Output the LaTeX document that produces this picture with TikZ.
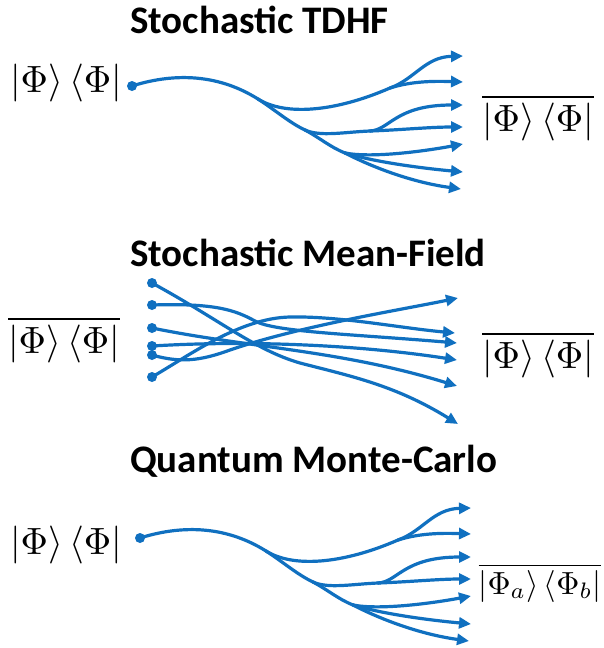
\documentclass[tikz,border=0pt]{standalone}
\usepackage{graphicx}
\usepackage{fontspec}
\newfontfamily\titlefont{Carlito}
\usetikzlibrary{arrows.meta}
\definecolor{flowblue}{RGB}{16,112,192}
\tikzset{
  trunk/.style={draw=flowblue, line width=3.2pt, line cap=round},
  flow/.style={trunk, -{Triangle[length=12pt,width=11pt]}},
  dotnode/.style={circle, fill=flowblue, inner sep=0pt, minimum size=10pt},
  title/.style={anchor=base west, inner sep=0pt, font=\titlefont\bfseries\fontsize{39}{44}\selectfont},
  ket/.style={anchor=base, inner sep=0pt, font=\fontsize{10}{12}\selectfont},
}
\newcommand{\kscale}[2]{\scalebox{#1}{$#2$}}
\newcommand{\fanset}[1]{%
  \node[dotnode] (#1d) at (132,86) {};
  \coordinate (#1a) at (258,99);
  \coordinate (#1A) at (390,88);
  \coordinate (#1B) at (305,130);
  \coordinate (#1Ba) at (370,131);
  \coordinate (#1Bb) at (345,153);
  \coordinate (#1e1) at (463,56);
  \coordinate (#1e2) at (463,82);
  \coordinate (#1e3) at (463,105);
  \coordinate (#1e4) at (463,127);
  \coordinate (#1e5) at (463,144);
  \coordinate (#1e6) at (463,172);
  \coordinate (#1e7) at (461,189);
  \draw[trunk] (#1d.center) .. controls (170,74) and (215,72) .. (#1a);
  \draw[trunk] (#1a) .. controls (285,116) and (335,112) .. (#1A);
  \draw[flow] (#1A) .. controls (415,79) and (425,57) .. (#1e1);
  \draw[flow] (#1A) .. controls (412,81) and (435,81) .. (#1e2);
  \draw[trunk] (#1a) .. controls (275,110) and (290,123) .. (#1B);
  \draw[trunk] (#1B) .. controls (320,137) and (345,132) .. (#1Ba);
  \draw[flow] (#1Ba) .. controls (390,130) and (395,105) .. (#1e3);
  \draw[flow] (#1Ba) .. controls (400,130) and (430,127) .. (#1e4);
  \draw[trunk] (#1B) .. controls (320,138) and (330,147) .. (#1Bb);
  \draw[flow] (#1Bb) .. controls (370,158) and (420,152) .. (#1e5);
  \draw[flow] (#1Bb) .. controls (375,162) and (420,168) .. (#1e6);
  \draw[flow] (#1Bb) .. controls (370,166) and (410,182) .. (#1e7);
}
\begin{document}
\begin{tikzpicture}[x=1pt,y=-1pt]
\useasboundingbox[fill=white] (0,0) rectangle (604,648);

% ---------- Stochastic TDHF ----------
\node[title] (t1) at (130,33) {Stochastic TDHF};
\node[ket] (l1) at (66,92) {\kscale{3.8}{|\Phi\rangle\,\langle\Phi|}};
\node[ket] (r1) at (538,131) {\kscale{3.8}{\overline{|\Phi\rangle\,\langle\Phi|}}};
\fanset{p}

% ---------- Stochastic Mean-Field ----------
\node[title] (t2) at (130,266) {Stochastic Mean-Field};
\node[ket] (l2) at (64,353) {\kscale{3.8}{\overline{|\Phi\rangle\,\langle\Phi|}}};
\node[ket] (r2) at (538,368) {\kscale{3.8}{\overline{|\Phi\rangle\,\langle\Phi|}}};
\node[dotnode] (m1) at (152,283) {};
\node[dotnode] (m2) at (152,305) {};
\node[dotnode] (m3) at (152,328) {};
\node[dotnode] (m4) at (152,346) {};
\node[dotnode] (m5) at (152,355) {};
\node[dotnode] (m6) at (152,377) {};
\coordinate (n1) at (458,298);
\coordinate (n2) at (455,333);
\coordinate (n3) at (457,343);
\coordinate (n4) at (457,360);
\coordinate (n5) at (457,386);
\coordinate (n6) at (458,424);
\draw[flow] (m1.center) .. controls (220,320) and (255,350) .. (300,363) .. controls (350,376) and (395,385) .. (n6);
\draw[flow] (m2.center) .. controls (215,303) and (235,310) .. (255,321) .. controls (275,332) and (350,334) .. (n3);
\draw[flow] (m3.center) .. controls (250,348) and (340,350) .. (n5);
\draw[flow] (m4.center) .. controls (250,340) and (360,345) .. (n4);
\draw[flow] (m5.center) .. controls (180,363) and (200,361) .. (230,350) .. controls (300,326) and (400,310) .. (n1);
\draw[flow] (m6.center) .. controls (190,355) and (240,318) .. (290,317) .. controls (340,316) and (400,328) .. (n2);

% ---------- Quantum Monte-Carlo ----------
\node[title] (t3) at (130,472) {Quantum Monte-Carlo};
\node[ket] (l3) at (66,554) {\kscale{3.8}{|\Phi\rangle\,\langle\Phi|}};
\node[ket] (r3) at (540,594) {\kscale{3.2}{\overline{|\Phi_a\rangle\,\langle\Phi_b|}}};
\begin{scope}[shift={(8,452)}]
\fanset{q}
\end{scope}
\end{tikzpicture}
\end{document}
